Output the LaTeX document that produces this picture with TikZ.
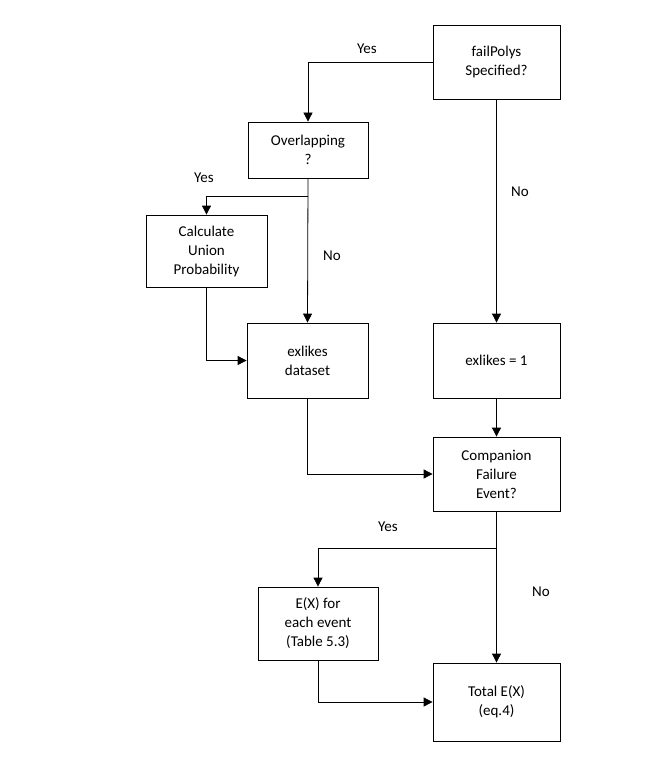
\documentclass[tikz,border=0pt]{standalone}
\usepackage{fontspec}
\setmainfont{Carlito}
\usetikzlibrary{arrows.meta}
\begin{document}
\begin{tikzpicture}[x=1pt,y=-1pt,
  box/.style={draw,thick,minimum width=#1,align=center,font=\fontsize{15}{19}\selectfont,inner sep=0pt},
  lbl/.style={font=\fontsize{15}{18}\selectfont},
  arr/.style={thick,-{Triangle[length=9pt,width=9pt]}},
  ln/.style={thick}]
\useasboundingbox (0,0) rectangle (665,757);
\node[box=127pt,minimum height=74pt] (fp) at (496.5,62.5) {failPolys\\Specified?};
\node[box=120pt,minimum height=56pt] (ov) at (308,150) {Overlapping\\?};
\node[box=121pt,minimum height=72pt] (cu) at (206.5,251) {Calculate\\Union\\Probability};
\node[box=121pt,minimum height=75pt] (ed) at (307.5,360.5) {exlikes\\dataset};
\node[box=127pt,minimum height=75pt] (e1) at (496.5,360.5) {exlikes = 1};
\node[box=127pt,minimum height=74pt] (cf) at (496.5,474) {Companion\\Failure\\Event?};
\node[box=120pt,minimum height=73pt] (ex) at (318,623.5) {E(X) for\\each event\\(Table 5.3)};
\node[box=127pt,minimum height=78pt] (te) at (496.5,702) {Total E(X)\\(eq.4)};
\coordinate (b1) at (308,196);
\coordinate (b2) at (496.5,548);
\draw[arr] (fp.west) -| (ov.north);
\draw[arr] (fp.south) -- (e1.north);
\draw[arr] (ov.south) -- (ed.north);
\draw[arr] (b1) -| (cu.north);
\draw[arr] (cu.south) |- (ed.west);
\draw[arr] (ed.south) |- (cf.west);
\draw[arr] (e1.south) -- (cf.north);
\draw[arr] (cf.south) -- (te.north);
\draw[arr] (b2) -| (ex.north);
\draw[arr] (ex.south) |- (te.west);
\node[lbl] (y1) at (367,49) {Yes};
\node[lbl] (n1) at (520,192) {No};
\node[lbl] (y2) at (204,178) {Yes};
\node[lbl] (n2) at (332,256) {No};
\node[lbl] (y3) at (388,527) {Yes};
\node[lbl] (n3) at (541,592) {No};
\end{tikzpicture}
\end{document}
